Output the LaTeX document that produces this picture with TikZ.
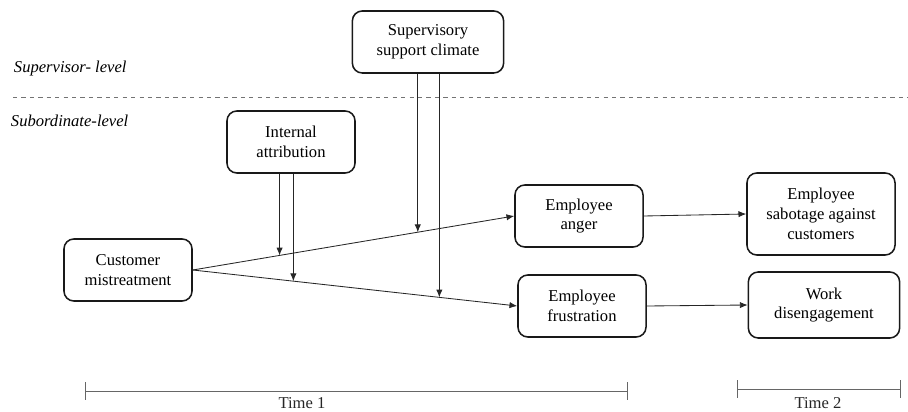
\documentclass[tikz,border=0pt]{standalone}
\usepackage{fontspec}
\setmainfont{Liberation Serif}
\usetikzlibrary{calc}
\usetikzlibrary{arrows.meta}

\tikzset{
  box/.style={draw=black!90, line width=1.1pt, rounded corners=7pt, align=center,
    minimum width=3.2cm, minimum height=1.55cm, inner sep=2pt,
    font=\rmfamily\fontsize{11.8}{14}\selectfont},
  lvl/.style={anchor=west, font=\rmfamily\itshape\fontsize{11.8}{14}\selectfont},
  link/.style={black!85, line width=.6pt, -{Latex[length=5.5pt,width=4.5pt]}},
  timeline/.style={black!60, line width=.6pt},
  timelabel/.style={font=\rmfamily\fontsize{11.8}{14}\selectfont, black!85}
}

\begin{document}
\begin{tikzpicture}[x=.025cm, y=-.025cm]
    \useasboundingbox (0,0) rectangle (908,412);
    % levels
    \node[lvl] (sup) at (9,69) {Supervisor- level};
    \node[lvl] (sub) at (6,121) {Subordinate-level};
    \draw[black!55, dashed] (13,97)--(908,97);
    % constructs
    \node[box, minimum width=3.78cm] (ssc) at (428,42) {Supervisory\\support climate};
    \node[box] (ia) at (291,142) {Internal\\attribution};
    \node[box] (cm) at (128,270) {Customer\\mistreatment};
    \node[box] (anger) at (579,216) {Employee\\anger};
    \node[box] (frus) at (582,306) {Employee\\frustration};
    \node[box, minimum width=3.7cm, minimum height=2.05cm] (sabo) at (821,214) {Employee\\sabotage against\\customers};
    \node[box, minimum width=3.78cm, minimum height=1.65cm] (work) at (824,305) {Work\\disengagement};
    % main paths
    \draw[link] (cm.east) -- coordinate[pos=.27] (m1) coordinate[pos=.70] (m2) (anger.west);
    \draw[link] (cm.east) -- coordinate[pos=.31] (m3) coordinate[pos=.76] (m4) (frus.west);
    \draw[link] (anger.east) -- (sabo.west);
    \draw[link] (frus.east) -- (work.west);
    % moderators
    \draw[link] (ia.south -| m1) -- (m1);
    \draw[link] (ia.south -| m3) -- (m3);
    \draw[link] (ssc.south -| m2) -- (m2);
    \draw[link] (ssc.south -| m4) -- (m4);
    % time
    \coordinate (t1a) at (85,391);
    \coordinate (t1b) at (627,391);
    \coordinate (t2a) at (737,389);
    \coordinate (t2b) at (900,389);
    \draw[timeline] (t1a) -- (t1b);
    \draw[timeline] (t2a) -- (t2b);
    \foreach \t in {t1a,t1b,t2a,t2b} {
      \draw[timeline] ($(\t)+(0,-9)$) -- ($(\t)+(0,9)$);
    }
    \node[timelabel] (time1) at (302,403) {Time 1};
    \node[timelabel] (time2) at (818,403) {Time 2};
\end{tikzpicture}
\end{document}
